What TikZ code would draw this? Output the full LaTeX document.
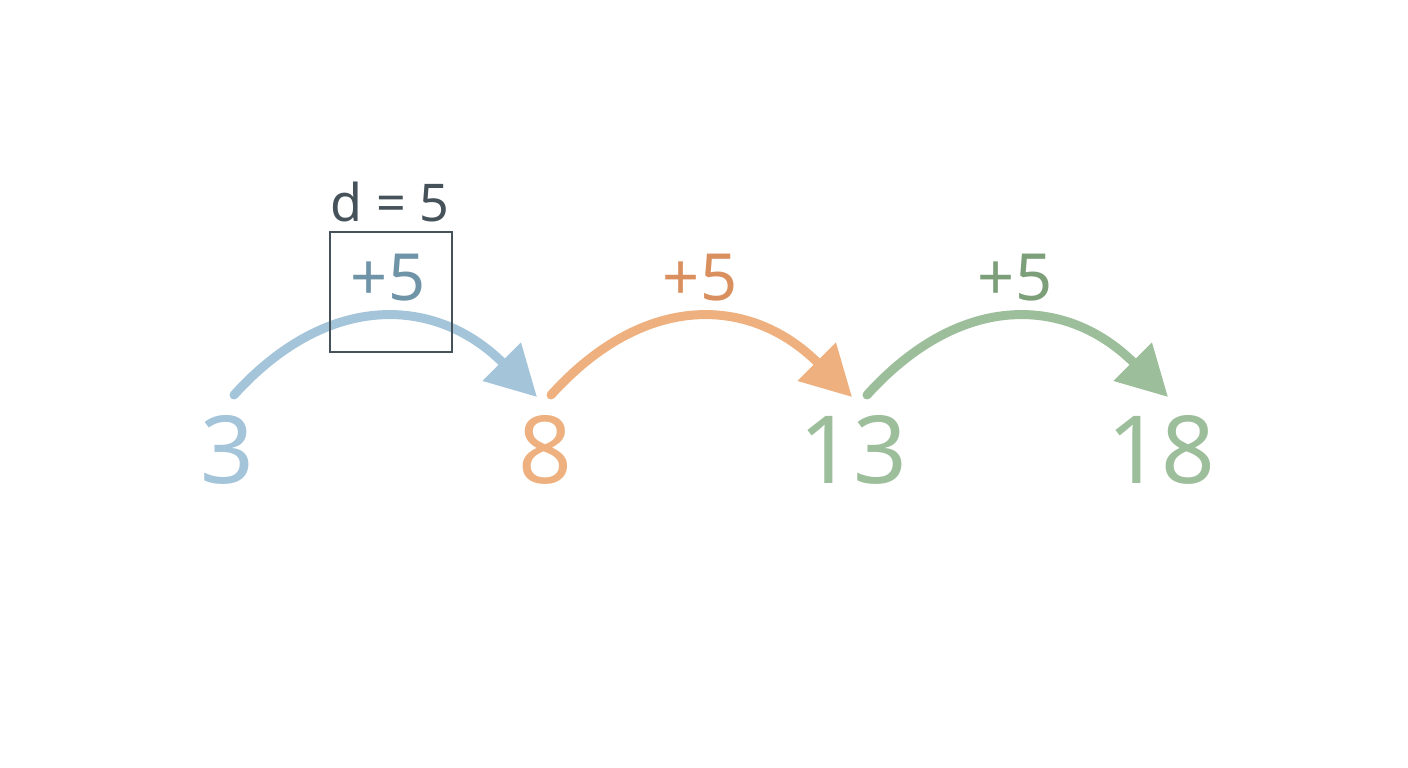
\documentclass[tikz,border=0pt]{standalone}
\usepackage{fontspec}
\setmainfont{Noto Sans}
\usetikzlibrary{arrows.meta}
\definecolor{hopblue}{HTML}{A3C4D9}
\definecolor{hoporange}{HTML}{EDB07E}
\definecolor{hopgreen}{HTML}{9DBE9B}
\definecolor{labelblue}{HTML}{6F93A7}
\definecolor{labelorange}{HTML}{D98F5E}
\definecolor{labelgreen}{HTML}{7C9F7A}
\definecolor{boxgray}{HTML}{46525A}

\begin{document}
\begin{tikzpicture}[x=1pt,y=-1pt,
    term/.style={font=\fontsize{94}{94}\selectfont},
    hoplabel/.style={font=\fontsize{65}{65}\selectfont},
    hop/.style={line width=9pt,line cap=round,-{Triangle[length=50pt,width=52pt]}}]
    \useasboundingbox (0,0) rectangle (1408,768);
    % terms of the sequence
    \node[term,text=hopblue] (T3) at (227,450) {3};
    \node[term,text=hoporange] (T8) at (545,450) {8};
    \node[term,text=hopgreen] (T13) at (853,450) {13};
    \node[term,text=hopgreen] (T18) at (1161,450) {18};
    % arc ends
    \coordinate (S3) at (234,395);
    \coordinate (E8) at (537,397);
    \coordinate (S8) at (551,395);
    \coordinate (E13) at (852,397);
    \coordinate (S13) at (867,395);
    \coordinate (E18) at (1168,397);
    \path [hop,draw=hopblue] (S3) .. controls +(95,-105) and +(-100,-100) .. (E8);
    \path [hop,draw=hoporange] (S8) .. controls +(95,-105) and +(-100,-100) .. (E13);
    \path [hop,draw=hopgreen] (S13) .. controls +(95,-105) and +(-100,-100) .. (E18);
    % labels
    \node[hoplabel,text=labelblue] (L1) at (388,278) {+5};
    \node[hoplabel,text=labelorange] (L2) at (700,278) {+5};
    \node[hoplabel,text=labelgreen] (L3) at (1015,278) {+5};
    \node[draw=boxgray,line width=2pt,minimum width=122pt,minimum height=120pt] (D) at (391,292) {};
    \node[font=\fontsize{52}{52}\selectfont,text=boxgray] (Dtext) at (390,202) {d = 5};
\end{tikzpicture}
\end{document}
